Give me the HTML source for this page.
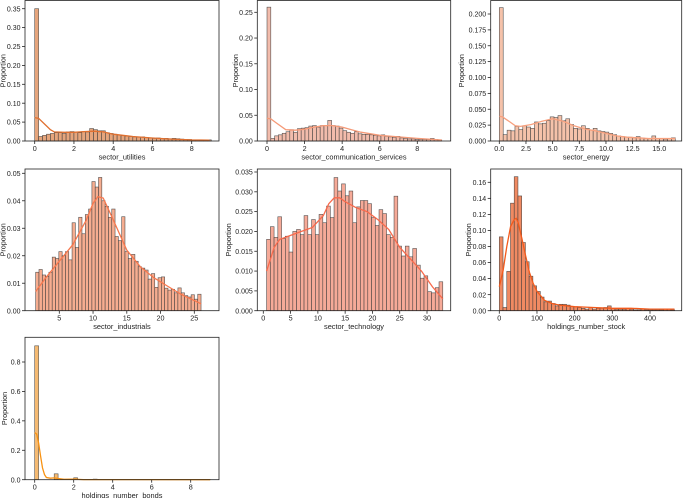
<!DOCTYPE html>
<html><head><meta charset="utf-8">
<style>
html,body{margin:0;padding:0;background:#fff;}
svg{display:block;font-family:"Liberation Sans",sans-serif;}
</style></head>
<body>
<svg id="chart" width="685" height="498" viewBox="0 0 685 498" xmlns="http://www.w3.org/2000/svg"></svg>
<script>
// ---- data ----
const utilitiesBins = [0.35,0.012,0.015,0.018,0.02,0.022,0.022,0.02,0.024,0.025,0.024,0.022,0.025,0.024,0.033,0.03,0.027,0.027,0.022,0.02,0.018,0.016,0.014,0.013,0.012,0.011,0.01,0.011,0.009,0.008,0.007,0.008,0.006,0.007,0.006,0.007,0.006,0.005,0.004,0.004,0.003,0.003,0.003,0.002,0.003];
const utilitiesKdeX = [0,0.2,0.5,0.8,1,1.5,2,2.5,3,3.5,4,5,6,7,8,8.9];
const utilitiesKdeY = [0.062,0.06,0.045,0.03,0.024,0.023,0.023,0.025,0.026,0.024,0.018,0.012,0.008,0.005,0.003,0.002];

const commBins = [0.26,0.005,0.01,0.012,0.015,0.018,0.022,0.017,0.024,0.025,0.026,0.029,0.03,0.027,0.03,0.03,0.04,0.03,0.029,0.025,0.02,0.017,0.015,0.018,0.014,0.013,0.013,0.012,0.011,0.01,0.012,0.009,0.008,0.007,0.009,0.006,0.005,0.004,0.004,0.003,0.003,0.003,0.003,0.005,0.003,0.002];
const commKdeX = [0,0.2,0.5,1,1.5,2,2.5,3,3.5,4,4.5,5,6,7,8,9.3];
const commKdeY = [0.044,0.043,0.035,0.022,0.021,0.023,0.027,0.03,0.03,0.027,0.022,0.017,0.011,0.008,0.005,0.002];

const energyBins = [0.21,0.01,0.017,0.016,0.023,0.018,0.024,0.022,0.02,0.03,0.027,0.028,0.032,0.038,0.037,0.04,0.032,0.035,0.026,0.02,0.019,0.024,0.02,0.017,0.02,0.016,0.015,0.014,0.012,0.01,0.008,0.007,0.006,0.006,0.005,0.007,0.005,0.004,0.004,0.008,0.004,0.004,0.003,0.004,0.005];
const energyKdeX = [0,0.3,1,1.5,2,3,4,5,6,7,8,9,10,11,12,13,14,16.5];
const energyKdeY = [0.039,0.038,0.03,0.024,0.023,0.026,0.031,0.035,0.031,0.024,0.019,0.016,0.012,0.008,0.006,0.005,0.004,0.004];

const industrialsBins = [0.014,0.015,0.013,0.0125,0.014,0.0195,0.019,0.0215,0.02,0.0215,0.0185,0.032,0.023,0.034,0.028,0.035,0.037,0.047,0.045,0.0485,0.04,0.038,0.034,0.037,0.027,0.0255,0.0342,0.0215,0.019,0.0205,0.018,0.016,0.0155,0.0148,0.0115,0.0135,0.0085,0.012,0.0123,0.0082,0.0075,0.0078,0.0065,0.0083,0.0065,0.0055,0.005,0.0058,0.0042,0.006];
const industrialsKdeX = [1.5,3,5,7,9,10,10.7,11.5,13,15,17,19,21,23,26];
const industrialsKdeY = [0.007,0.012,0.018,0.024,0.033,0.039,0.0415,0.041,0.033,0.022,0.016,0.012,0.009,0.006,0.0025];

const technologyBins = [0.018,0.0212,0.0185,0.0237,0.0182,0.0188,0.0148,0.02,0.0205,0.0192,0.024,0.0192,0.023,0.0192,0.0243,0.0222,0.0264,0.0235,0.0336,0.0302,0.032,0.029,0.0302,0.0222,0.0262,0.0278,0.0278,0.027,0.0235,0.0215,0.0255,0.0245,0.0192,0.0185,0.0289,0.0163,0.0138,0.0163,0.0136,0.0157,0.0115,0.0082,0.0088,0.0048,0.0045,0.0058,0.0073];
const technologyKdeX = [0.6,2,3,5,7,9,11,12,13,14,15,17,19,21,23,25,27,29,31,32.9];
const technologyKdeY = [0.01,0.016,0.018,0.019,0.02,0.021,0.024,0.027,0.0285,0.0285,0.0275,0.026,0.025,0.023,0.0205,0.016,0.013,0.01,0.006,0.003];

const stockBins = [0.092,0.004,0.049,0.134,0.167,0.143,0.085,0.061,0.043,0.031,0.024,0.017,0.011,0.012,0.009,0.006,0.008,0.008,0.007,0.005,0.005,0.004,0.003,0.002,0.004,0.002,0.003,0.003,0.004,0.006,0.003,0.002,0.002,0.002,0.003,0.002,0.001,0.001,0.002,0.001,0.001,0.001,0.001,0.001,0.002,0.002,0.001];
const stockKdeX = [0,10,20,30,40,45,50,60,70,80,90,100,120,140,160,200,250,300,350,400,465];
const stockKdeY = [0.03,0.05,0.08,0.105,0.114,0.115,0.11,0.09,0.068,0.048,0.034,0.024,0.013,0.009,0.007,0.005,0.004,0.003,0.003,0.002,0.002];

const bondsBins = [0.91,0,0,0,0,0.04,0,0,0,0,0.013,0,0,0,0,0.004,0,0,0,0,0.001,0,0,0,0,0.001,0,0,0,0,0.001,0,0,0,0,0.001,0,0,0,0,0.001,0,0,0,0.001];
const bondsKdeX = [0,0.1,0.2,0.3,0.4,0.5,0.6,0.8,1,1.2,1.5,2,2.5,3,5,9];
const bondsKdeY = [0.32,0.31,0.25,0.16,0.08,0.035,0.015,0.01,0.012,0.008,0.003,0.004,0.001,0.001,0.0005,0];

const utilitiesXTicks = [0,2,4,6,8];
const commXTicks = [0,2,4,6,8];
const energyXTicks = [0,2.5,5,7.5,10,12.5,15];
const industrialsXTicks = [5,10,15,20,25];
const technologyXTicks = [0,5,10,15,20,25,30];
const stockXTicks = [0,100,200,300,400];
const bondsXTicks = [0,2,4,6,8];

// ---- panel configs (geometry + style) ----
const panels = [
 {name:'sector-utilities',label:'sector_utilities',L:25,R:219,T:0.5,B:141,px0:34.7,px1:191.7,v0:0,v1:8,ymax:0.35/ (141-8.7)*(141-0.5),yStep:0.05,yDec:2,yTop:0.35,bins:utilitiesBins,start:0,w:0.2,kx:utilitiesKdeX,ky:utilitiesKdeY,xt:utilitiesXTicks,xDec:0,fill:'#e6a57c',line:'#e07030'},
 {name:'sector-communication-services',label:'sector_communication_services',L:257.3,R:450.7,T:0.5,B:141,px0:267,px1:417.3,v0:0,v1:8,ymax:0.25/(141-12.3)*(141-0.5),yStep:0.05,yDec:2,yTop:0.25,bins:commBins,start:0,w:0.2022,kx:commKdeX,ky:commKdeY,xt:commXTicks,xDec:0,fill:'#f2bcac',line:'#f59a78'},
 {name:'sector-energy',label:'sector_energy',L:490.7,R:681.7,T:0.5,B:141,px0:499.3,px1:659.3,v0:0,v1:15,ymax:0.2/(141-14)*(141-0.5),yStep:0.025,yDec:3,yTop:0.2,bins:energyBins,start:0,w:0.3667,kx:energyKdeX,ky:energyKdeY,xt:energyXTicks,xDec:1,fill:'#f5c2aa',line:'#f7a07e'},
 {name:'sector-industrials',label:'sector_industrials',L:25,R:219,T:169,B:310.7,px0:59.3,px1:194.3,v0:5,v1:25,ymax:0.05/(310.7-173.3)*(310.7-169),yStep:0.01,yDec:2,yTop:0.05,bins:industrialsBins,start:1.5,w:0.49,kx:industrialsKdeX,ky:industrialsKdeY,xt:industrialsXTicks,xDec:0,fill:'#f6ad90',line:'#f7784e'},
 {name:'sector-technology',label:'sector_technology',L:257.3,R:450.7,T:169,B:310.7,px0:263.3,px1:427,v0:0,v1:30,ymax:0.035/(310.7-172)*(310.7-169),yStep:0.005,yDec:3,yTop:0.035,bins:technologyBins,start:0.6,w:0.687,kx:technologyKdeX,ky:technologyKdeY,xt:technologyXTicks,xDec:0,fill:'#f6aa98',line:'#f86a4c'},
 {name:'holdings-number-stock',label:'holdings_number_stock',L:490.7,R:681.7,T:169,B:310.7,px0:499.3,px1:650,v0:0,v1:400,ymax:0.16/(310.7-182.3)*(310.7-169),yStep:0.02,yDec:2,yTop:0.16,bins:stockBins,start:0,w:9.9,kx:stockKdeX,ky:stockKdeY,xt:stockXTicks,xDec:0,fill:'#f08a62',line:'#f25a1c'},
 {name:'holdings-number-bonds',label:'holdings_number_bonds',L:25,R:219,T:337.3,B:479.7,px0:34.7,px1:190.7,v0:0,v1:8,ymax:0.8/(479.7-362)*(479.7-337.3),yStep:0.2,yDec:1,yTop:0.8,bins:bondsBins,start:0,w:0.2,kx:bondsKdeX,ky:bondsKdeY,xt:bondsXTicks,xDec:0,fill:'#f5ba72',line:'#f89212'}
];

const NS='http://www.w3.org/2000/svg';
const svg=document.getElementById('chart');
function mk(tag,attrs,parent){const e=document.createElementNS(NS,tag);for(const k in attrs)e.setAttribute(k,attrs[k]);parent.appendChild(e);return e;}

panels.forEach(p=>{
  const g=mk('g',{},svg);
  
  
  const xs=v=>p.px0+(v-p.v0)*(p.px1-p.px0)/(p.v1-p.v0);
  const ys=v=>p.B-v*(p.B-p.T)/p.ymax;
  p.bins.forEach((v,i)=>{
    if(v<=0)return;
    const x0=xs(p.start+i*p.w), x1=xs(p.start+(i+1)*p.w);
    const r=mk('rect',{x:x0,y:ys(v),width:Math.max(0.5,x1-x0),height:p.B-ys(v),fill:p.fill,stroke:'#3a3a3a','stroke-width':0.6,'stroke-opacity':0.85},g);
    
    
  });
  const d=p.kx.map((x,i)=>(i?'L':'M')+xs(x).toFixed(1)+','+ys(p.ky[i]).toFixed(1)).join(' ');
  const kl=mk('path',{d:d,fill:'none',stroke:p.line,'stroke-width':1.3},g);
  
  
  const fr=mk('rect',{x:p.L,y:p.T,width:p.R-p.L,height:p.B-p.T,fill:'none',stroke:'#222','stroke-width':0.8},g);
  
  
  const n=Math.round(p.yTop/p.yStep);
  for(let k=0;k<=n;k++){
    const v=k*p.yStep, y=ys(v);
    mk('line',{x1:p.L-3,x2:p.L,y1:y,y2:y,stroke:'#222','stroke-width':0.8},g);
    const t=mk('text',{x:p.L-4.5,y:y+2.6,'font-size':7,'text-anchor':'end',fill:'#222'},g);
    t.textContent=v.toFixed(p.yDec);
    
    
  }
  p.xt.forEach(v=>{
    const x=xs(v);
    mk('line',{x1:x,x2:x,y1:p.B,y2:p.B+3,stroke:'#222','stroke-width':0.8},g);
    const t=mk('text',{x:x,y:p.B+10,'font-size':7.2,'text-anchor':'middle',fill:'#222'},g);
    t.textContent=v.toFixed(p.xDec);
    
    
  });
  const xt=mk('text',{x:(p.L+p.R)/2,y:p.B+18.5,'font-size':7.4,'text-anchor':'middle',fill:'#222'},g);
  xt.textContent=p.label;
  
  
  const yx=p.L-(p.yDec===3?26.5:(p.yDec===1?18:19.5)), yy=(p.T+p.B)/2;
  const yt=mk('text',{x:yx,y:yy,'font-size':7.2,'text-anchor':'middle',fill:'#222',transform:'rotate(-90 '+yx+' '+yy+')'},g);
  yt.textContent='Proportion';
  
  
});
</script>
</body></html>
